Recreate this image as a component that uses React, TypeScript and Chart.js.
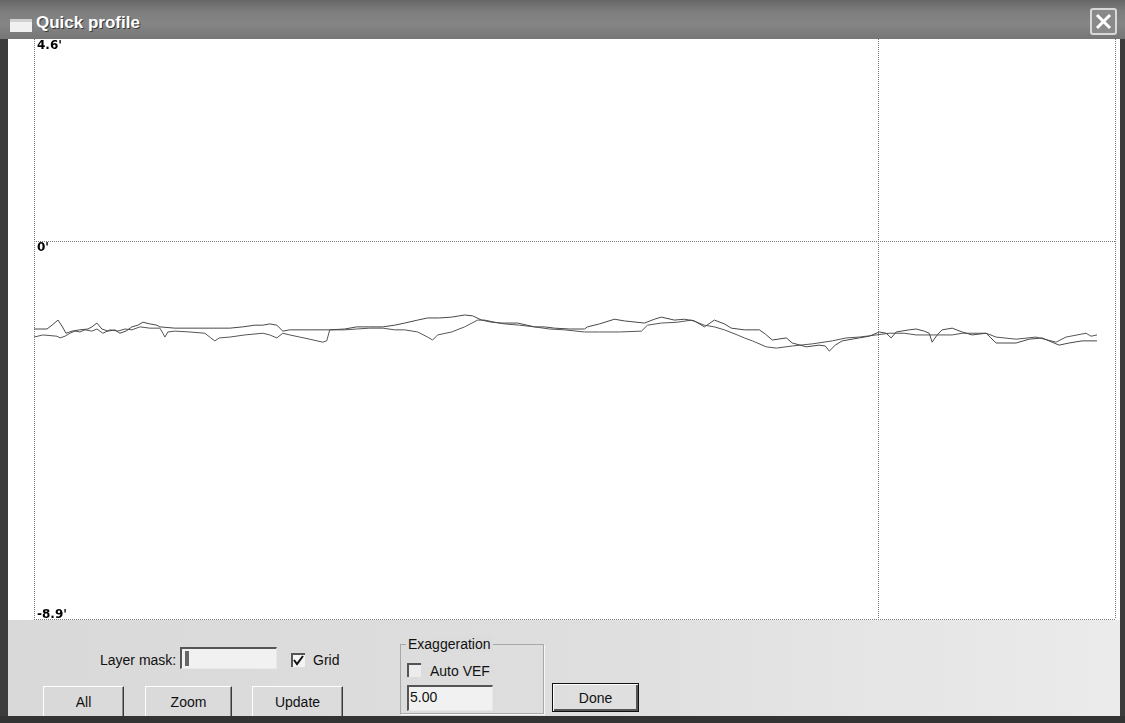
import React, { useEffect, useRef } from 'react';
import { Chart, registerables } from 'chart.js';

Chart.register(...registerables);

// Profile line A (distance, elevation in feet)
const lineAX = [0, 1.54, 2.13, 2.84, 3.31, 3.79, 4.5, 5.44, 6.39, 6.86, 7.45, 8.04, 8.75, 9.58, 10.17, 10.88, 11.59, 12.3, 12.89, 13.72, 14.55, 14.91, 16.68, 19.64, 23.19, 24.72, 26.14, 27.09, 27.92, 28.75, 29.46, 30.28, 32.65, 35.02, 36.79, 38.21, 39.75, 41.29, 42.71, 43.89, 45.43, 46.61, 48.03, 49.45, 50.99, 51.93, 53.0, 54.18, 55.36, 57.26, 59.27, 60.45, 61.63, 63.41, 65.18, 65.54, 66.96, 68.73, 69.92, 72.28, 73.46, 74.29, 75.83, 77.01, 78.2, 79.38, 80.56, 81.75, 82.57, 84.11, 85.89, 86.6, 87.42, 89.08, 89.79, 91.45, 92.98, 93.69, 94.17, 94.88, 95.7, 97.72, 98.9, 100.08, 100.91, 101.5, 102.09, 103.63, 104.46, 105.41, 106.0, 106.35, 106.94, 107.53, 108.72, 109.9, 111.08, 112.74, 113.92, 116.29, 117.83, 119.36, 121.38, 122.56, 124.1, 125.87];
const lineAY = [-2.07, -2.07, -1.98, -1.86, -2.0, -2.17, -2.12, -2.09, -2.07, -2.02, -1.93, -2.07, -2.12, -2.09, -2.17, -2.12, -2.02, -1.98, -1.91, -1.95, -1.98, -2.02, -2.05, -2.05, -2.05, -2.02, -1.98, -1.98, -1.95, -1.98, -2.12, -2.09, -2.09, -2.09, -2.07, -2.02, -2.02, -2.02, -1.98, -1.93, -1.86, -1.81, -1.81, -1.79, -1.74, -1.76, -1.86, -1.91, -1.93, -1.93, -2.02, -2.02, -2.05, -2.07, -2.07, -2.02, -1.95, -1.84, -1.88, -1.93, -1.84, -1.79, -1.86, -1.84, -1.88, -2.02, -1.86, -1.95, -2.05, -2.09, -2.09, -2.19, -2.33, -2.28, -2.4, -2.49, -2.45, -2.47, -2.59, -2.45, -2.35, -2.28, -2.24, -2.14, -2.17, -2.28, -2.14, -2.09, -2.07, -2.12, -2.17, -2.38, -2.21, -2.09, -2.05, -2.14, -2.21, -2.17, -2.4, -2.4, -2.31, -2.28, -2.45, -2.4, -2.35, -2.35];

// Profile line B
const lineBX = [0, 1.06, 2.72, 3.08, 3.67, 4.26, 4.85, 5.44, 6.03, 6.86, 7.45, 8.16, 8.99, 9.94, 10.77, 11.59, 12.54, 13.72, 14.91, 15.26, 15.5, 15.85, 16.68, 18.45, 20.23, 20.94, 21.41, 21.96, 23.19, 24.96, 27.09, 27.92, 28.75, 29.46, 30.28, 31.47, 32.65, 34.19, 34.66, 35.02, 36.79, 38.21, 39.75, 41.29, 42.71, 43.89, 45.43, 46.61, 47.2, 47.79, 49.45, 50.99, 52.53, 53.35, 54.54, 55.72, 57.49, 59.27, 61.04, 62.82, 65.18, 66.96, 69.32, 71.93, 72.64, 74.29, 76.18, 77.84, 79.38, 80.56, 81.75, 83.28, 84.11, 85.06, 86.71, 87.9, 89.79, 92.16, 94.52, 96.18, 97.72, 99.73, 101.26, 103.04, 104.46, 106.82, 108.72, 109.9, 111.08, 112.74, 113.92, 116.29, 118.65, 121.02, 122.2, 124.57, 125.16, 125.87];
const lineBY = [-2.26, -2.21, -2.24, -2.28, -2.24, -2.17, -2.12, -2.14, -2.09, -2.12, -2.07, -2.17, -2.09, -2.12, -2.07, -2.09, -2.02, -2.05, -2.05, -2.17, -2.26, -2.14, -2.12, -2.14, -2.17, -2.28, -2.35, -2.28, -2.26, -2.21, -2.17, -2.21, -2.28, -2.17, -2.21, -2.26, -2.31, -2.38, -2.35, -2.09, -2.09, -2.07, -2.05, -2.05, -2.09, -2.09, -2.14, -2.26, -2.33, -2.21, -2.14, -2.02, -1.86, -1.86, -1.91, -1.95, -1.98, -2.02, -2.07, -2.09, -2.14, -2.14, -2.14, -2.12, -1.98, -1.93, -1.91, -1.86, -1.98, -2.02, -2.09, -2.21, -2.28, -2.35, -2.49, -2.52, -2.47, -2.42, -2.35, -2.28, -2.26, -2.21, -2.17, -2.17, -2.21, -2.21, -2.21, -2.17, -2.17, -2.17, -2.26, -2.31, -2.26, -2.38, -2.26, -2.17, -2.24, -2.21];

// Axis ticks / grid
const yTickValues = [4.6, 0, -8.9];
const yTickLabels = ["4.6'", "0'", "-8.9'"];
const yGridValues = [0, -8.9];
const xGridValues = [0, 100, 128];
const xMin = 0;
const xMax = 128;
const yMin = -8.9;
const yMax = 4.76;

const FONT = '"Liberation Sans", Arial, sans-serif';

const yLabelPlugin = {
  id: 'yLabels',
  afterDraw(chart: any) {
    const { ctx, chartArea, scales } = chart;
    const ys = scales.y;
    ctx.save();
    ctx.font = 'bold 12px "DejaVu Sans"';
    ctx.fillStyle = '#000';
    ctx.textAlign = 'left';
    yTickValues.forEach((v, i) => {
      const py = ys.getPixelForValue(v);
      let base: CanvasTextBaseline = 'middle';
      let dy = 0;
      if (v === yMin) {
        base = 'alphabetic';
        dy = -1;
      } else if (i > 0) {
        base = 'top';
        dy = 1;
      }
      ctx.textBaseline = base;
      ctx.fillText(yTickLabels[i], chartArea.left + 3, py + dy);
    });
    ctx.restore();
  },
};

function ProfileChart() {
  const ref = useRef<HTMLCanvasElement | null>(null);
  useEffect(() => {
    if (!ref.current) return;
    const dataA = lineAX.map((x, i) => ({ x, y: lineAY[i] }));
    const dataB = lineBX.map((x, i) => ({ x, y: lineBY[i] }));
    const chart = new Chart(ref.current, {
      type: 'line',
      data: {
        datasets: [
          { data: dataA, borderColor: '#484848', borderWidth: 1, pointRadius: 0, tension: 0, fill: false },
          { data: dataB, borderColor: '#555555', borderWidth: 1, pointRadius: 0, tension: 0, fill: false },
        ],
      },
      options: {
        animation: false,
        responsive: false,
        devicePixelRatio: 1,
        layout: { padding: { left: 26, right: 5, top: 0, bottom: 1 } },
        plugins: { legend: { display: false }, tooltip: { enabled: false }, title: { display: false } },
        events: [],
        scales: {
          x: {
            type: 'linear',
            min: xMin,
            max: xMax,
            afterBuildTicks: (s: any) => {
              s.ticks = xGridValues.map((v) => ({ value: v }));
            },
            afterFit: (s: any) => {
              s.height = 0;
            },
            ticks: { display: false },
            grid: { color: '#7a7a7a', lineWidth: 1, drawTicks: false },
            border: { display: false, dash: [1, 1] },
          },
          y: {
            type: 'linear',
            min: yMin,
            max: yMax,
            afterBuildTicks: (s: any) => {
              s.ticks = yGridValues.map((v) => ({ value: v }));
            },
            afterFit: (s: any) => {
              s.width = 0;
            },
            ticks: { display: false },
            grid: { color: '#7a7a7a', lineWidth: 1, drawTicks: false },
            border: { display: false, dash: [1, 1] },
          },
        },
      },
      plugins: [yLabelPlugin],
    } as any);
    return () => chart.destroy();
  }, []);
  return <canvas ref={ref} width={1112} height={581} style={{ display: 'block', width: 1112, height: 581 }} />;
}

const abs = (left: number, top: number, extra: React.CSSProperties = {}): React.CSSProperties => ({
  position: 'absolute',
  left,
  top,
  ...extra,
});

function Button({ left, top, width, height, label, isDefault }: { left: number; top: number; width: number; height: number; label: string; isDefault?: boolean }) {
  return (
    <div
      style={abs(left, top, {
        width,
        height,
        boxSizing: 'border-box',
        border: isDefault ? '1px solid #111' : '1px solid',
        borderColor: isDefault ? '#111' : '#ffffff #3a3a3a #3a3a3a #ffffff',
        boxShadow: isDefault ? 'inset 1px 1px #ffffff, inset -2px -2px #555' : 'inset -1px -1px #8a8a8a',
        display: 'flex',
        alignItems: 'center',
        justifyContent: 'center',
        font: `14px ${FONT}`,
        color: '#111',
      })}
    >
      {label}
    </div>
  );
}

function Sunken({ left, top, width, height, children }: { left: number; top: number; width: number; height: number; children?: React.ReactNode }) {
  return (
    <div
      style={abs(left, top, {
        width,
        height,
        boxSizing: 'border-box',
        borderTop: '2px solid #555',
        borderLeft: '2px solid #555',
        borderRight: '1px solid #e8e8e8',
        borderBottom: '1px solid #e8e8e8',
        background: '#f1f1f1',
        font: `14px ${FONT}`,
        color: '#111',
      })}
    >
      {children}
    </div>
  );
}

export default function App() {
  return (
    <div style={{ position: 'fixed', left: 0, top: 0, width: 1125, height: 723, background: '#3c3c3c', overflow: 'hidden', fontFamily: FONT }}>
      {/* Title bar */}
      <div style={abs(0, 0, { width: 1125, height: 39, background: 'linear-gradient(to bottom, #666 0%, #7e7e7e 30%, #858585 60%, #767676 100%)' })} />
      <div style={abs(10, 19, { width: 22, height: 13, background: '#f0f0f0', boxShadow: 'inset 0 3px #d0d0d0' })} />
      <div style={abs(36, 13, { font: `bold 17px ${FONT}`, color: '#ffffff', textShadow: '1px 1px 0 #3a3a3a', whiteSpace: 'nowrap' })}>Quick profile</div>
      <div
        style={abs(1090, 8, {
          width: 27,
          height: 27,
          boxSizing: 'border-box',
          border: '2px solid #d8d8d8',
          borderRadius: 3,
          background: '#8a8a8a',
        })}
      >
        <svg width="23" height="23" style={{ display: 'block' }}>
          <line x1="5" y1="5" x2="18" y2="18" stroke="#ffffff" strokeWidth="3" />
          <line x1="18" y1="5" x2="5" y2="18" stroke="#ffffff" strokeWidth="3" />
        </svg>
      </div>

      {/* Plot area */}
      <div style={abs(8, 39, { width: 1112, height: 581, background: '#ffffff' })}>
        <ProfileChart />
      </div>

      {/* Control panel */}
      <div style={abs(8, 620, { width: 1112, height: 96, background: 'linear-gradient(to right, #d9d9d9 0%, #dedede 50%, #ebebeb 100%)' })} />

      <div style={abs(100, 652, { font: `14px ${FONT}`, color: '#111', whiteSpace: 'nowrap' })}>Layer mask:</div>
      <Sunken left={180} top={647} width={97} height={22}>
        <div style={abs(3, 2, { width: 4, height: 15, background: '#666' })} />
      </Sunken>

      <div
        style={abs(291, 653, {
          width: 14,
          height: 14,
          boxSizing: 'border-box',
          borderTop: '2px solid #555',
          borderLeft: '2px solid #555',
          background: '#f4f4f4',
        })}
      >
        <svg width="12" height="12" style={{ display: 'block' }}>
          <polyline points="1,5 4,9 10,1" fill="none" stroke="#111" strokeWidth="2" />
        </svg>
      </div>
      <div style={abs(313, 652, { font: `14px ${FONT}`, color: '#111' })}>Grid</div>

      <Button left={43} top={686} width={81} height={32} label="All" />
      <Button left={145} top={686} width={87} height={32} label="Zoom" />
      <Button left={252} top={686} width={91} height={32} label="Update" />

      {/* Exaggeration group */}
      <div
        style={abs(400, 644, {
          width: 144,
          height: 70,
          boxSizing: 'border-box',
          border: '1px solid #a8a8a8',
          boxShadow: '1px 1px #f8f8f8',
        })}
      />
      <div style={abs(406, 636, { font: `14px ${FONT}`, color: '#111', background: '#dcdcdc', padding: '0 2px', whiteSpace: 'nowrap' })}>Exaggeration</div>
      <div
        style={abs(407, 663, {
          width: 14,
          height: 14,
          boxSizing: 'border-box',
          borderTop: '2px solid #555',
          borderLeft: '2px solid #555',
          background: '#ececec',
        })}
      />
      <div style={abs(430, 663, { font: `14px ${FONT}`, color: '#111', whiteSpace: 'nowrap' })}>Auto VEF</div>
      <Sunken left={407} top={685} width={86} height={26}>
        <div style={{ padding: '2px 0 0 1px' }}>5.00</div>
      </Sunken>

      <Button left={552} top={683} width={87} height={29} label="Done" isDefault />

      {/* Bottom border */}
      <div style={abs(0, 716, { width: 1125, height: 7, background: '#333' })} />
    </div>
  );
}
